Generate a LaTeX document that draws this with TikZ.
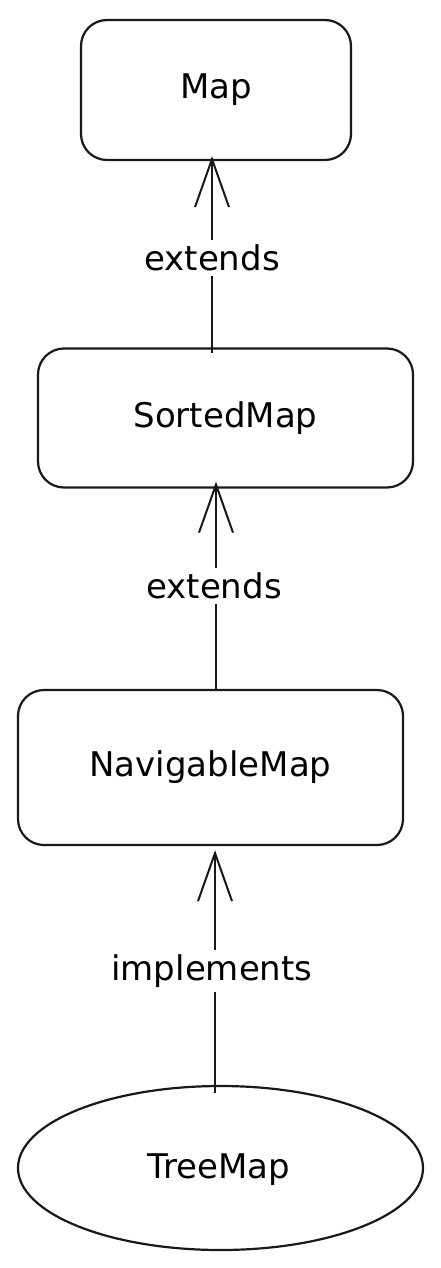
\documentclass[tikz,border=0pt]{standalone}
\usepackage{fontspec}
\setmainfont{DejaVu Sans}
\usetikzlibrary{arrows.meta,shapes.geometric}
\tikzset{
  txt/.style={font=\fontsize{34}{40}\selectfont, text=black},
  box/.style={draw=black!90, line width=2.2pt, rounded corners=26pt, fill=white, inner sep=0pt, txt},
  oval/.style={draw=black!90, line width=2.2pt, ellipse, fill=white, inner sep=0pt},
  lbl/.style={fill=white, inner sep=5pt, txt},
  arr/.style={draw=black!90, line width=2.2pt, -{Straight Barb[length=48pt,width=34pt,line width=2pt]}}
}
\begin{document}
\begin{tikzpicture}[x=1pt,y=1pt]
\useasboundingbox[fill=white] (0,0) rectangle (440,-1268);
\node[box, minimum width=270pt, minimum height=140pt] (map) at (216,-90) {Map};
\node[box, minimum width=375pt, minimum height=139pt] (sorted) at (225.5,-418) {SortedMap};
\node[box, minimum width=385pt, minimum height=155pt] (nav) at (210.5,-767.5) {NavigableMap};
\node[oval, minimum width=405pt, minimum height=164pt] (tree) at (220.5,-1168) {};
\node[txt] (treet) at (219,-1170) {TreeMap};
\coordinate (c1) at (212,0);
\coordinate (c2) at (216,0);
\coordinate (c3) at (215,0);
\draw[arr] ([yshift=-6pt]c1 |- sorted.north) -- ([yshift=5pt]c1 |- map.south);
\draw[arr] ([yshift=-2pt]c2 |- nav.north) -- ([yshift=7pt]c2 |- sorted.south);
\draw[arr] ([yshift=-8pt]c3 |- tree.north) -- ([yshift=-4pt]c3 |- nav.south);
\node[lbl] (l1) at (212,-258) {extends};
\node[lbl] (l2) at (214,-586) {extends};
\node[lbl] (l3) at (212,-971) {implements};
\end{tikzpicture}
\end{document}
